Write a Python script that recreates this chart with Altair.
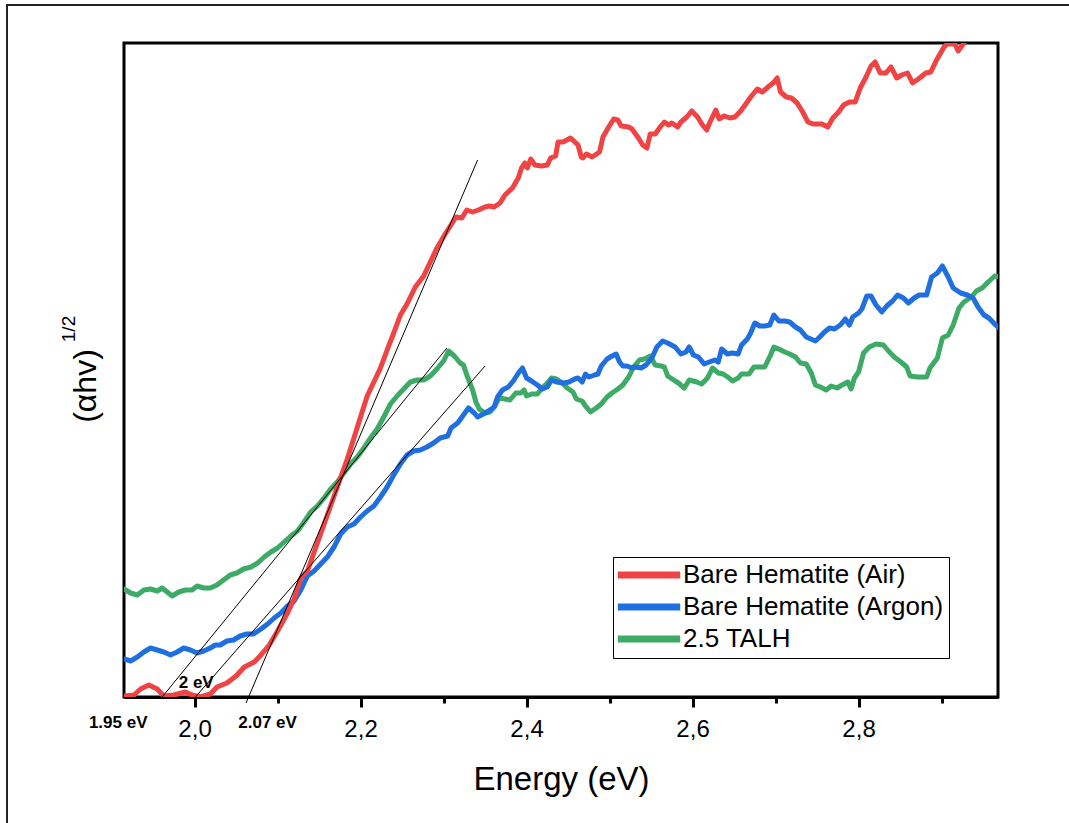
import altair as alt
import pandas as pd

# ---- data (energy in eV, signal in arbitrary units) ----
red_E = [1.915, 1.927, 1.935, 1.945, 1.955, 1.963, 1.975, 1.989, 1.997, 2.007,
         2.019, 2.027, 2.039, 2.050, 2.060, 2.072, 2.080, 2.090, 2.100, 2.112,
         2.120, 2.128, 2.136, 2.148, 2.160, 2.172, 2.184, 2.192, 2.200, 2.208,
         2.216, 2.224, 2.232, 2.240, 2.248, 2.256, 2.266, 2.276, 2.284, 2.292,
         2.302,
         2.309, 2.315, 2.322, 2.328, 2.335, 2.342, 2.350, 2.355, 2.361, 2.368,
         2.374, 2.383, 2.390, 2.394, 2.398, 2.401, 2.405, 2.410, 2.418, 2.425,
         2.429, 2.435, 2.438, 2.444, 2.453, 2.462, 2.466, 2.468, 2.472, 2.479,
         2.488, 2.492, 2.499, 2.505, 2.510, 2.514, 2.523, 2.527, 2.534, 2.540,
         2.545, 2.549, 2.555, 2.562, 2.566, 2.571, 2.575, 2.582, 2.586, 2.593,
         2.599, 2.606, 2.612, 2.617, 2.621, 2.628, 2.632, 2.638, 2.645, 2.651,
         2.658, 2.665, 2.671, 2.678, 2.684, 2.691, 2.697, 2.702, 2.706, 2.713,
         2.719, 2.726, 2.732, 2.739, 2.745, 2.756, 2.763, 2.769, 2.776, 2.782,
         2.789, 2.796, 2.802, 2.809, 2.815, 2.820, 2.826, 2.833, 2.839, 2.846,
         2.852, 2.859, 2.865, 2.872, 2.881, 2.887, 2.894, 2.903, 2.907, 2.916,
         2.920, 2.927]
red_y = [1, 2, 8, 12, 8, 1, 2, 5, 2, 0,
         3, 10, 14, 21, 30, 35, 42, 52, 66, 84,
         98, 119, 126, 154, 182, 210, 238, 259, 280, 301,
         315, 329, 347, 364, 382, 393, 410, 421, 435, 449,
         463,
         472, 480, 479, 487, 485, 487, 490, 491, 490, 494,
         502, 509, 519, 529, 534, 529, 538, 532, 531, 532,
         539, 541, 555, 555, 559, 552, 540, 539, 543, 540,
         545, 560, 570, 578, 577, 571, 570, 568, 560, 552,
         549, 563, 563, 571, 575, 572, 574, 570, 575, 580,
         586, 580, 572, 567, 575, 587, 578, 581, 579, 580,
         586, 594, 601, 608, 605, 610, 614, 619, 605, 600,
         599, 594, 586, 575, 573, 573, 570, 579, 585, 592,
         595, 595, 609, 620, 631, 635, 624, 624, 630, 619,
         622, 624, 614, 618, 624, 625, 637, 650, 653, 653,
         646, 654]

blue_E = [1.915, 1.923, 1.931, 1.939, 1.947, 1.955, 1.963, 1.971, 1.979, 1.987,
          1.995, 2.003, 2.011, 2.019, 2.025, 2.031, 2.039, 2.047, 2.055, 2.063,
          2.071, 2.080, 2.088, 2.096, 2.104, 2.112, 2.120, 2.128, 2.136, 2.144,
          2.152, 2.160, 2.168, 2.176, 2.184, 2.192, 2.200, 2.208, 2.216, 2.224,
          2.232, 2.240, 2.248, 2.256, 2.264, 2.272, 2.280, 2.288, 2.296, 2.305,
          2.309, 2.317, 2.324, 2.330, 2.337, 2.341, 2.348, 2.354, 2.361, 2.365,
          2.371, 2.378, 2.384, 2.391, 2.395, 2.400, 2.406, 2.413, 2.419, 2.425,
          2.430, 2.436, 2.445, 2.451, 2.458, 2.462, 2.467, 2.471, 2.475, 2.482,
          2.486, 2.490, 2.497, 2.503, 2.508, 2.512, 2.516, 2.521, 2.527, 2.531,
          2.538, 2.544, 2.551, 2.557, 2.564, 2.570, 2.579, 2.586, 2.592, 2.596,
          2.601, 2.607, 2.614, 2.620, 2.627, 2.631, 2.635, 2.642, 2.648, 2.655,
          2.659, 2.666, 2.670, 2.675, 2.681, 2.687, 2.693, 2.698, 2.704, 2.711,
          2.717, 2.724, 2.730, 2.737, 2.748, 2.752, 2.759, 2.765, 2.771, 2.778,
          2.784, 2.789, 2.793, 2.800, 2.804, 2.810, 2.815, 2.821, 2.828, 2.834,
          2.841, 2.847, 2.854, 2.860, 2.867, 2.873, 2.882, 2.888, 2.895, 2.901,
          2.908, 2.914, 2.923, 2.931, 2.938, 2.944, 2.951, 2.957, 2.964, 2.973]
blue_y = [38, 36, 40, 45, 49, 47, 45, 42, 45, 49,
          47, 44, 46, 49, 52, 52, 56, 57, 61, 63,
          63, 68, 73, 79, 84, 91, 96, 107, 121, 126,
          133, 140, 150, 163, 170, 173, 180, 186, 191, 200,
          210, 222, 233, 242, 246, 247, 250, 254, 259, 261,
          269, 274, 282, 289, 284, 280, 283, 286, 290, 300,
          307, 310, 316, 325, 329, 319, 316, 312, 308, 310,
          317, 315, 314, 315, 318, 319, 315, 323, 320, 322,
          323, 331, 338, 341, 343, 335, 331, 331, 329, 330,
          329, 332, 339, 350, 356, 354, 350, 343, 345, 350,
          342, 340, 333, 335, 337, 335, 348, 343, 344, 343,
          352, 358, 364, 374, 371, 371, 372, 382, 376, 376,
          375, 370, 367, 360, 356, 359, 365, 369, 368, 372,
          378, 372, 380, 384, 388, 401, 401, 392, 385, 391,
          396, 402, 399, 394, 399, 402, 402, 420, 424, 431,
          420, 409, 404, 402, 399, 390, 382, 379, 373, 366]

green_E = [1.915, 1.923, 1.931, 1.939, 1.947, 1.955, 1.961, 1.967, 1.973, 1.981,
           1.989, 1.997, 2.003, 2.011, 2.019, 2.027, 2.035, 2.043, 2.051, 2.059,
           2.068, 2.076, 2.084, 2.092, 2.100, 2.108, 2.116, 2.124, 2.132, 2.140,
           2.148, 2.156, 2.164, 2.172, 2.180, 2.188, 2.196, 2.204, 2.212, 2.220,
           2.228, 2.236, 2.244, 2.252, 2.260, 2.268, 2.276, 2.284, 2.292, 2.300,
           2.306,
           2.313, 2.320, 2.324, 2.328, 2.335, 2.339, 2.343, 2.350, 2.356, 2.361,
           2.367, 2.374, 2.380, 2.387, 2.393, 2.397, 2.400, 2.406, 2.413, 2.419,
           2.425, 2.430, 2.436, 2.443, 2.449, 2.456, 2.460, 2.467, 2.471, 2.477,
           2.484, 2.490, 2.497, 2.503, 2.510, 2.516, 2.523, 2.529, 2.536, 2.542,
           2.549, 2.555, 2.562, 2.566, 2.570, 2.579, 2.583, 2.590, 2.596, 2.605,
           2.611, 2.618, 2.624, 2.631, 2.637, 2.644, 2.648, 2.655, 2.659, 2.668,
           2.674, 2.681, 2.687, 2.694, 2.698, 2.704, 2.711, 2.717, 2.724, 2.730,
           2.737, 2.743, 2.748, 2.754, 2.761, 2.767, 2.774, 2.780, 2.787, 2.791,
           2.795, 2.800, 2.806, 2.813, 2.821, 2.830, 2.836, 2.843, 2.851, 2.858,
           2.862, 2.871, 2.882, 2.886, 2.895, 2.901, 2.908, 2.914, 2.921, 2.927,
           2.936, 2.942, 2.949, 2.955, 2.964, 2.973]
green_y = [108, 104, 102, 107, 108, 106, 109, 105, 101, 105,
           107, 107, 111, 109, 109, 112, 117, 122, 124, 128,
           130, 134, 140, 145, 149, 155, 161, 166, 175, 185,
           191, 199, 208, 215, 224, 233, 240, 249, 259, 268,
           280, 293, 301, 308, 315, 317, 317, 321, 328, 336,
           346,
           341, 334, 332, 322, 307, 295, 288, 284, 285, 290,
           299, 298, 297, 304, 304, 307, 301, 303, 303, 309,
           314, 319, 318, 314, 309, 305, 298, 296, 291, 285,
           289, 293, 300, 304, 308, 312, 320, 330, 337, 338,
           341, 332, 331, 330, 321, 316, 314, 309, 317, 315,
           313, 319, 329, 324, 323, 319, 316, 319, 323, 323,
           330, 330, 330, 342, 350, 348, 345, 343, 340, 334,
           333, 324, 312, 310, 307, 311, 309, 312, 315, 308,
           319, 325, 344, 350, 353, 352, 346, 340, 335, 330,
           321, 320, 320, 329, 339, 359, 362, 372, 389, 395,
           400, 406, 409, 414, 421, 420]

# tangent (Tauc) lines: two end points each
tan_id = ["air", "air", "argon", "argon", "talh", "talh"]
tan_E = [2.062, 2.341, 2.001, 2.350, 1.961, 2.304]
tan_y = [-6, 537, 0, 331, 0, 349]

# band-gap annotations
ann_text = ["1.95 eV", "2 eV", "2.07 eV"]
ann_E = [1.908, 2.002, 2.088]
ann_y = [-26, 14, -26]

series = ["Bare Hematite (Air)", "Bare Hematite (Argon)", "2.5 TALH"]
colors = ["#F04444", "#1F6FE0", "#3DAA66"]
x_ticks = [2.0, 2.1, 2.2, 2.3, 2.4, 2.5, 2.6, 2.7, 2.8, 2.9]

FONT = "Liberation Sans"

rows = []
for name, E, Y in [(series[0], red_E, red_y), (series[1], blue_E, blue_y),
                   (series[2], green_E, green_y)]:
    for i, (e, v) in enumerate(zip(E, Y)):
        rows.append({"series": name, "E": e, "y": v, "i": i})
df = pd.DataFrame(rows)

tan_df = pd.DataFrame({"id": tan_id, "E": tan_E, "y": tan_y})
ann_df = pd.DataFrame({"t": ann_text, "E": ann_E, "y": ann_y})

xscale = alt.Scale(domain=[1.915, 2.968], nice=False, zero=False)
yscale = alt.Scale(domain=[0, 654], nice=False, zero=False)

xaxis = alt.Axis(
    values=x_ticks,
    title="Energy (eV)",
    labelExpr="(round(datum.value*10) % 2 == 0) ? replace(format(datum.value, '.1f'), '.', ',') : ''",
    tickSize={"condition": {"test": "round(datum.value*10) % 2 == 0", "value": 10}, "value": 6},
    labelPadding=10,
    titlePadding=22,
    labelFontSize=24,
    titleFontSize=33,
    labelFont=FONT,
    titleFont=FONT,
    titleFontWeight="normal",
    grid=False,
)

legend = alt.Legend(
    title=None, orient="none", legendX=489, legendY=514, direction="vertical",
    strokeColor="black", fillColor="white", padding=5,
    symbolType="M-5.2,0H5.2", symbolSize=144, symbolStrokeWidth=7,
    symbolOffset=18, labelOffset=21,
    labelFontSize=26, labelFont=FONT, labelColor="black",
    rowPadding=4, labelLimit=600,
)

base_color = alt.Color("series:N", scale=alt.Scale(domain=series, range=colors),
                       legend=legend, sort=series)


def curve(name):
    return alt.Chart(df).transform_filter(alt.datum.series == name).mark_line(
        strokeWidth=5, clip=True, strokeJoin="round", strokeCap="round"
    ).encode(
        x=alt.X("E:Q", scale=xscale, axis=xaxis),
        y=alt.Y("y:Q", scale=yscale, axis=None),
        color=base_color,
        order="i:Q",
    )


tangents = alt.Chart(tan_df).mark_line(color="black", strokeWidth=1, clip=False).encode(
    x=alt.X("E:Q", scale=xscale),
    y=alt.Y("y:Q", scale=yscale),
    detail="id:N",
)

ann = alt.Chart(ann_df).mark_text(font=FONT, fontSize=17, fontWeight="bold",
                                  color="black", clip=False).encode(
    x=alt.X("E:Q", scale=xscale),
    y=alt.Y("y:Q", scale=yscale),
    text="t:N",
)

one = pd.DataFrame({"k": [0]})
ylab = alt.Chart(one).mark_text(text="(\u03b1hv)", angle=270, font=FONT, fontSize=32,
                                align="center", baseline="middle", color="black").encode(
    x=alt.value(-38), y=alt.value(343))
ysup = alt.Chart(one).mark_text(text="1/2", angle=270, font=FONT, fontSize=19,
                                align="center", baseline="middle", color="black").encode(
    x=alt.value(-55), y=alt.value(286))
outer = alt.Chart(one).mark_rect(filled=False, stroke="#222222", strokeWidth=2, clip=False).encode(
    x=alt.value(-117), x2=alt.value(1100), y=alt.value(-38), y2=alt.value(900))

chart = alt.layer(
    outer, curve(series[2]), curve(series[1]), curve(series[0]), tangents, ann, ylab, ysup
).properties(
    width=874, height=654,
    padding={"left": 124, "top": 43, "right": 71, "bottom": 126},
    autosize="none",
    background="white",
).configure_view(
    stroke="black", strokeWidth=3
).configure_axis(
    domainColor="black", domainWidth=3, tickColor="black", tickWidth=3,
    labelColor="black", titleColor="black",
)

chart.save("out.html", embed_options={"renderer": "svg", "actions": False})
